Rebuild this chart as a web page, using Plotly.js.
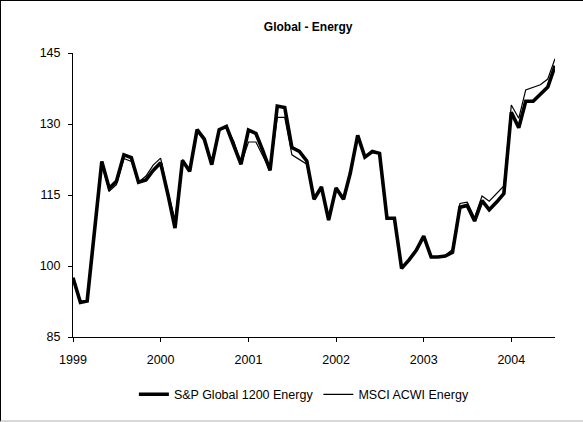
<!DOCTYPE html>
<html>
<head>
<meta charset="utf-8">
<script src="https://cdn.plot.ly/plotly-3.0.1.min.js"></script>
<style>
  html, body { margin: 0; padding: 0; background: #fff; }
  #frame { position: absolute; left: 0; top: 0; width: 582px; height: 419px;
           border-left: 1px solid #000; border-top: 1px solid #000;
           border-bottom: 2px solid #d8d8d8; }
  #chart { position: absolute; left: 0; top: 0; width: 583px; height: 422px; }
</style>
</head>
<body>
<div id="frame"></div>
<div id="chart"></div>
<script>
// Monthly series, January 1999 through July 2004
const startYear = 1999;
const startMonth = 1;

const spGlobal1200Energy = [
  97.5, 92.3, 92.6, 107.0, 122.1, 116.4, 117.9, 123.5, 122.9, 117.7, 118.2, 120.2,
  121.8, 115.0, 108.0, 122.3, 120.0, 128.8, 126.8, 121.4, 128.8, 129.5, 125.3, 121.5,
  128.7, 128.0, 124.5, 120.2, 133.8, 133.5, 125.0, 124.2, 122.2, 114.1, 116.7, 109.7,
  116.5, 114.1, 119.6, 127.6, 123.0, 124.2, 123.8, 110.1, 110.1, 99.5, 101.3, 103.3,
  106.3, 101.9, 101.9, 102.1, 102.9, 112.4, 112.8, 109.5, 113.8, 111.9, 113.5, 115.3,
  132.5, 129.2, 134.8, 134.8, 136.3, 137.8, 142.3
];

const msciAcwiEnergy = [
  97.5, 92.3, 92.6, 107.0, 121.5, 115.8, 117.2, 122.7, 122.1, 117.7, 119.0, 121.3,
  122.8, 115.5, 109.8, 122.5, 120.2, 128.5, 126.5, 121.4, 128.8, 129.3, 126.3, 121.5,
  126.2, 126.2, 123.2, 120.2, 131.4, 131.4, 123.5, 122.5, 121.5, 114.0, 116.7, 109.7,
  116.5, 114.1, 119.6, 127.4, 123.0, 124.0, 123.8, 110.1, 110.1, 99.5, 101.3, 103.3,
  106.3, 101.9, 101.9, 102.3, 103.5, 113.2, 113.5, 110.2, 114.8, 113.7, 115.3, 116.9,
  134.0, 131.2, 137.2, 137.8, 138.3, 139.5, 143.8
];

const seriesNames = ["S&P Global 1200 Energy", "MSCI ACWI Energy"];
const yTickVals = [85, 100, 115, 130, 145];
const xTickVals = ["1999-01-01", "2000-01-01", "2001-01-01", "2002-01-01", "2003-01-01", "2004-01-01"];
const xTickText = ["1999", "2000", "2001", "2002", "2003", "2004"];

function monthDates(n) {
  const out = [];
  for (let i = 0; i < n; i++) {
    const m0 = startMonth - 1 + i;
    const y = startYear + Math.floor(m0 / 12);
    const m = (m0 % 12) + 1;
    out.push(y + "-" + String(m).padStart(2, "0") + "-01");
  }
  return out;
}
const dates = monthDates(spGlobal1200Energy.length);

const FONT = "'Liberation Sans', Arial, sans-serif";

const traces = [
  { x: dates, y: spGlobal1200Energy, name: seriesNames[0], type: "scatter", mode: "lines",
    line: { color: "#000", width: 3.6 } },
  { x: dates, y: msciAcwiEnergy, name: seriesNames[1], type: "scatter", mode: "lines",
    line: { color: "#000", width: 1.2 } }
];

const layout = {
  width: 583, height: 422,
  margin: { l: 73, r: 28, t: 53, b: 74 },
  paper_bgcolor: "rgba(0,0,0,0)",
  plot_bgcolor: "rgba(0,0,0,0)",
  font: { family: FONT, size: 12, color: "#000" },
  title: { text: "<b>Global - Energy</b>", font: { family: FONT, size: 12, color: "#000" },
           x: 0.488, xref: "paper", xanchor: "center", y: 28, yref: "container", yanchor: "middle" },
  xaxis: {
    type: "date",
    range: [dates[0], dates[dates.length - 1]],
    tickvals: xTickVals, ticktext: xTickText,
    showgrid: false, zeroline: false,
    showline: true, linecolor: "#000", linewidth: 1,
    ticks: "outside", ticklen: 4, tickcolor: "#000", tickwidth: 1,
    ticklabelstandoff: 7,
    tickfont: { family: FONT, size: 12.5, color: "#000" }
  },
  yaxis: {
    range: [85, 145],
    tickvals: yTickVals,
    showgrid: false, zeroline: false,
    showline: true, linecolor: "#000", linewidth: 1,
    ticks: "outside", ticklen: 4, tickcolor: "#000", tickwidth: 1,
    ticklabelstandoff: 5,
    tickfont: { family: FONT, size: 12.5, color: "#000" }
  },
  showlegend: true,
  legend: {
    orientation: "h", x: 0.479, xanchor: "center", y: -0.203, yanchor: "middle",
    font: { family: FONT, size: 12.5, color: "#000" },
    itemwidth: 30, tracegroupgap: 0, bgcolor: "rgba(0,0,0,0)"
  }
};

Plotly.newPlot("chart", traces, layout, { displayModeBar: false, staticPlot: true });
</script>
</body>
</html>
